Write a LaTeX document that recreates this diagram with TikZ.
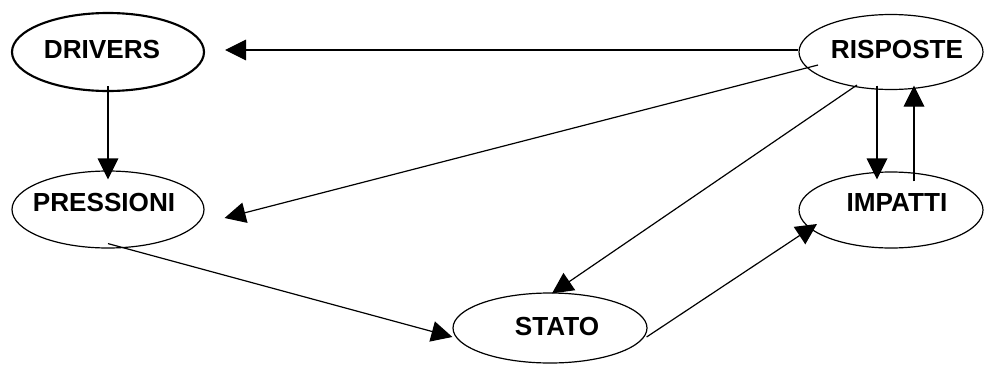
\documentclass[tikz,border=0pt]{standalone}
\usepackage{fontspec}
\setmainfont{Liberation Sans}
\usetikzlibrary{shapes.geometric,arrows.meta}

\tikzset{%
				every box/.style={
					ellipse,
					draw,
					line width=0.9pt,
					inner sep=0pt
				},
				box drivers/.style={
					line width=1.6pt
				},
				box text/.style={
					inner sep=0pt,
					font=\fontsize{19.6}{24}\selectfont\bfseries
				},
				link/.style={
					->,
					line width=0.9pt
				},
			}

\begin{document}
\begin{tikzpicture}[x=0.75pt, y=-0.75pt, >={Triangle[length=15.75pt,width=15.5pt]}]
			
			\useasboundingbox (0,0) rectangle (984,364);
			
			\foreach \n/\l/\x/\y/\w/\h/\dx/\dy in {drivers/DRIVERS/108/52/192/78/-6/2,
				pressioni/PRESSIONI/108/209.5/192/77/-4/6.5,
				risposte/RISPOSTE/891/52/184/75/6/2,
				impatti/IMPATTI/891/210/184/76/6/7,
				stato/STATO/550/328/194/70/7/2}
			\node [every box/.try, box \n/.try, minimum width=\w*0.75pt, minimum height=\h*0.75pt,
				label={[box text, xshift=\dx*0.75pt, yshift=\dy*0.75pt]center:\l}] (\n) at (\x,\y) {};
			
			\draw [link] ([shift={(0,-2)}]risposte.west) -- ([shift={(20,-2)}]drivers.east);
			
			\draw [link] ([shift={(0,-6)}]drivers.south) -- ([shift={(0,9)}]pressioni.north);
			
			\draw [link] ([shift={(-73,13)}]risposte.center) -- ([shift={(20,8.5)}]pressioni.east);
			
			\draw [link] ([shift={(0,-5)}]pressioni.south) -- ([shift={(0,9)}]stato.west);
			
			\draw [link] ([shift={(-34,33)}]risposte.center) -- ([shift={(2,1)}]stato.north);
			
			\draw [link] ([shift={(-1,9)}]stato.east) -- ([shift={(-74,14)}]impatti.center);
			
			\draw [link] ([shift={(-14,-4.5)}]risposte.south) -- ([shift={(-14,8)}]impatti.north);
			
			\draw [link] ([shift={(23,10)}]impatti.north) -- ([shift={(23,-4.5)}]risposte.south);
			
			\end{tikzpicture}
\end{document}
